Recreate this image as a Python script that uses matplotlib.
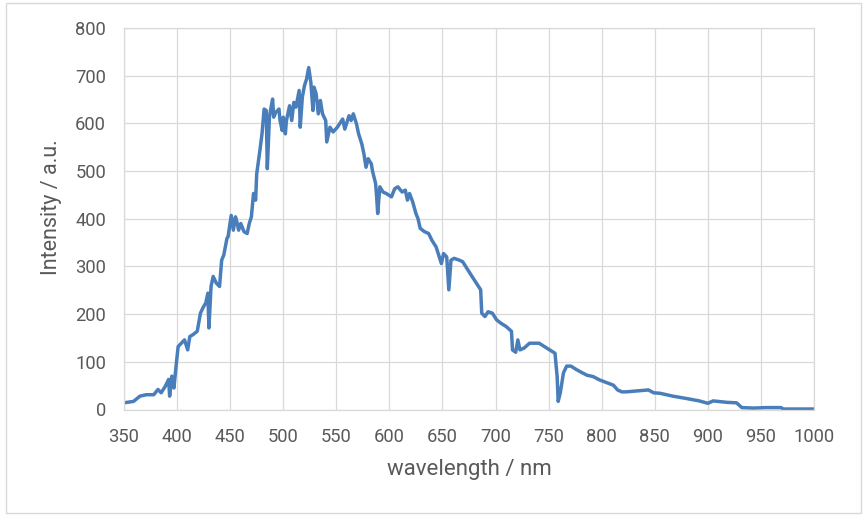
import matplotlib
matplotlib.use("Agg")
import matplotlib.pyplot as plt
from matplotlib.patches import Rectangle

wavelength = [350, 359, 365, 371, 378, 382, 385, 389, 392, 393, 395, 397, 399, 401, 404, 407, 410,
              412, 415, 419, 422, 425, 427, 429, 430, 432, 434, 437, 440, 442, 444, 447, 448, 451,
              453, 455, 456, 458, 460, 463, 466, 468, 470, 472, 474, 475, 478, 480, 482, 484, 485,
              487, 488, 490, 491, 493, 496, 497, 499, 500, 502, 503, 506, 508, 510, 512, 515, 516,
              518, 520, 522, 524, 526, 528, 529, 531, 533, 535, 537, 540, 541, 544, 547, 551, 556,
              558, 562, 564, 566, 569, 571, 574, 576, 578, 580, 583, 584, 587, 588, 589, 591, 594,
              597, 602, 605, 608, 612, 615, 617, 619, 622, 625, 627, 629, 633, 637, 640, 644, 647,
              649, 651, 654, 656, 658, 661, 666, 669, 673, 677, 682, 686, 687, 690, 693, 697, 701,
              705, 710, 715, 716, 719, 721, 723, 727, 732, 736, 741, 746, 751, 756, 758, 759, 761,
              762, 764, 767, 771, 776, 780, 786, 792, 798, 805, 811, 815, 819, 823, 833, 844, 849,
              855, 867, 880, 892, 900, 905, 918, 927, 932, 943, 955, 969, 971, 987, 1000]
intensity = [14, 17, 28, 31, 31, 42, 35, 49, 63, 28, 70, 45, 90, 132, 139, 146, 125,
             153, 157, 164, 202, 216, 223, 244, 171, 258, 279, 265, 258, 313, 324, 359, 362, 407,
             376, 404, 397, 376, 390, 373, 369, 390, 404, 453, 439, 494, 543, 578, 630, 627, 505,
             613, 627, 651, 613, 623, 630, 606, 585, 613, 578, 606, 637, 606, 644, 634, 669, 592,
             655, 679, 693, 717, 686, 627, 676, 662, 620, 648, 620, 606, 561, 592, 582, 592, 609,
             588, 616, 606, 620, 599, 578, 557, 536, 508, 526, 515, 501, 474, 446, 411, 467, 456,
             453, 446, 463, 467, 456, 460, 439, 453, 435, 411, 400, 380, 373, 369, 355, 341, 320,
             306, 327, 320, 251, 313, 317, 313, 310, 296, 282, 265, 251, 202, 195, 205, 202, 188,
             181, 174, 164, 125, 120, 146, 125, 129, 139, 139, 139, 132, 125, 118, 70, 17, 35,
             49, 77, 91, 91, 84, 79, 72, 69, 62, 56, 51, 41, 37, 37, 39, 41, 35,
             34, 28, 23, 18, 13, 18, 15, 14, 4, 3, 4, 4, 1, 1, 1]

x_ticks = list(range(350, 1001, 50))
y_ticks = list(range(0, 801, 100))

W, H = 866, 517
fig = plt.figure(figsize=(W / 100, H / 100), dpi=100)
fig.patch.set_facecolor("white")

# chart-area border
fig.patches.append(Rectangle((6 / W, (H - 513) / H), 855 / W, 510 / H,
                             transform=fig.transFigure, fill=False,
                             edgecolor="#D9D9D9", linewidth=1.0))

ax = fig.add_axes([124 / W, (H - 409.5) / H, 690 / W, 381.5 / H])
ax.plot(wavelength, intensity, color="#4A7EBB", linewidth=2.5, solid_joinstyle="round")

ax.set_xlim(350, 1000)
ax.set_ylim(0, 800)
ax.set_xticks(x_ticks)
ax.set_yticks(y_ticks)

grid_c = "#D9D9D9"
ax.grid(True, color=grid_c, linewidth=0.9)
ax.set_axisbelow(True)
for s in ax.spines.values():
    s.set_color(grid_c)
    s.set_linewidth(0.9)

txt_c = "#595959"
font = "Roboto"
ax.tick_params(length=0, pad=13, colors=txt_c, labelsize=13.2)
for lab in ax.get_xticklabels() + ax.get_yticklabels():
    lab.set_fontfamily(font)

fig.text(469 / W, 1 - 470 / H, "wavelength / nm", ha="center", va="center",
         color=txt_c, fontsize=16, fontfamily=font)
fig.text(52 / W, 1 - 207 / H, "Intensity / a.u.", ha="center", va="center",
         rotation=90, color=txt_c, fontsize=15.5, fontfamily=font)

fig.savefig("out.png", dpi=100)
